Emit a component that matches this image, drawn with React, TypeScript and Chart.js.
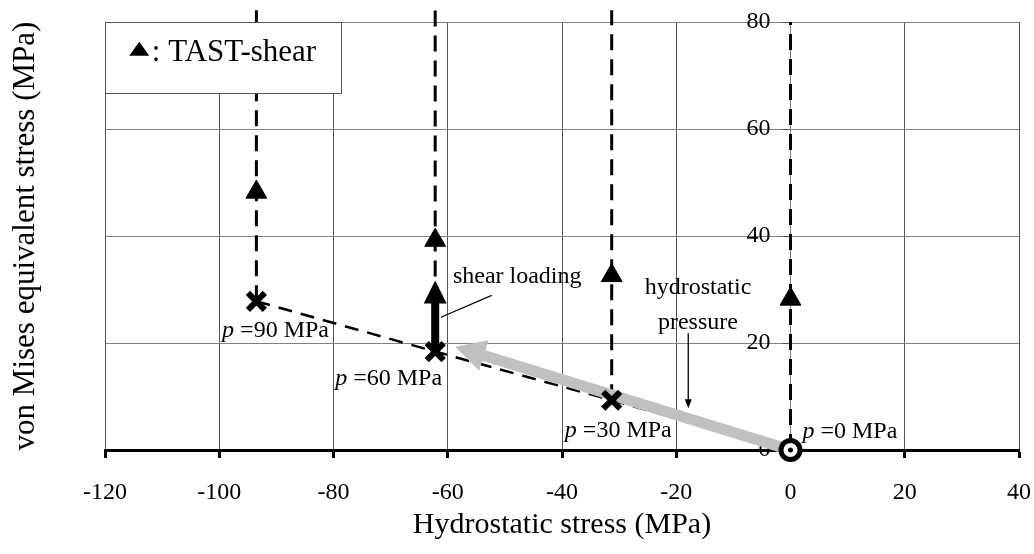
import React, { useEffect, useRef } from "react";
import { Chart, registerables } from "chart.js";

Chart.register(...registerables);

const FONT = "'Liberation Serif', 'Times New Roman', Times, serif";

// axes
const xRange = [-120, 40];
const yRange = [0, 80];
const tickStep = 20;
// the value axis crosses at x = 0; its labels sit just left of it
const yAxisAt = 0;
const yLabelsAt = -3.5;

// loading states (hydrostatic pressure p in MPa)
const pressures = [90, 60, 30, 0];
const hydroStress = [-93.5, -62.2, -31.3, 0];
const misesLoaded = [27.8, 18.4, 9.3, 0];
// TAST-shear results
const tastShear = [48.2, 39.2, 32.6, 28.2];
// upper end of the dashed shear paths
const pathTops = [83.1, 82.2, 82.2, 80];

// annotation arrows (data units)
const shearArrow = { from: [-62.2, 18.4], to: [-62.2, 31.7] };
const pressureArrow = { from: [0, 0], to: [-58.7, 19.3] };
const pointerArrow = { from: [-17.9, 21.8], to: [-17.9, 7.8] };
const shearLeader = { from: [-52.3, 28.9], to: [-61.2, 24.8] };

// annotation texts (left / baseline, data units)
const pLabelPos = [
  [-99.5, 21.2],
  [-79.7, 12.1],
  [-39.5, 2.5],
  [2.1, 2.2],
];
const shearText = "shear loading";
const shearTextPos = [-59.1, 31.2];
const hydroTexts = ["hydrostatic", "pressure"];
const hydroTextPos = [
  [-16.2, 29.1],
  [-16.2, 22.6],
];

// legend
const legendText = ": TAST-shear";
const legendBox = [
  [-120, 80],
  [-78.6, 66.8],
];
const legendMarker = [-114.0, 75.0];
const legendTextPos = [-111.8, 72.8];

const xTitle = "Hydrostatic stress (MPa)";
const yTitle = "von Mises equivalent stress (MPa)";

function drawArrow(
  ctx: CanvasRenderingContext2D,
  x1: number,
  y1: number,
  x2: number,
  y2: number,
  shaftW: number,
  headLen: number,
  headHalf: number,
  color: string
) {
  const ang = Math.atan2(y2 - y1, x2 - x1);
  const len = Math.hypot(x2 - x1, y2 - y1);
  ctx.save();
  ctx.translate(x1, y1);
  ctx.rotate(ang);
  ctx.fillStyle = color;
  ctx.beginPath();
  ctx.moveTo(0, -shaftW / 2);
  ctx.lineTo(len - headLen, -shaftW / 2);
  ctx.lineTo(len - headLen, -headHalf);
  ctx.lineTo(len, 0);
  ctx.lineTo(len - headLen, headHalf);
  ctx.lineTo(len - headLen, shaftW / 2);
  ctx.lineTo(0, shaftW / 2);
  ctx.closePath();
  ctx.fill();
  ctx.restore();
}

const noPadding = () => ({ left: 0, right: 0, top: 0, bottom: 0 });

const annotationPlugin = {
  id: "annotations",
  afterDatasetDraw(chart: any, args: any) {
    const ds = chart.data.datasets[args.index];
    if (ds.label !== "loading path") return;
    const ctx: CanvasRenderingContext2D = chart.ctx;
    const X = (v: number) => chart.scales.x.getPixelForValue(v);
    const Y = (v: number) => chart.scales.y.getPixelForValue(v);
    drawArrow(
      ctx,
      X(pressureArrow.from[0]),
      Y(pressureArrow.from[1]),
      X(pressureArrow.to[0]),
      Y(pressureArrow.to[1]),
      11,
      30,
      16,
      "#c0c0c0"
    );
    drawArrow(
      ctx,
      X(shearArrow.from[0]),
      Y(shearArrow.from[1]),
      X(shearArrow.to[0]),
      Y(shearArrow.to[1]),
      8,
      23,
      11.5,
      "#000"
    );
  },
  afterDraw(chart: any) {
    const ctx: CanvasRenderingContext2D = chart.ctx;
    const X = (v: number) => chart.scales.x.getPixelForValue(v);
    const Y = (v: number) => chart.scales.y.getPixelForValue(v);
    ctx.save();
    // leader line for shear loading
    ctx.strokeStyle = "#000";
    ctx.lineWidth = 1.2;
    ctx.beginPath();
    ctx.moveTo(X(shearLeader.from[0]), Y(shearLeader.from[1]));
    ctx.lineTo(X(shearLeader.to[0]), Y(shearLeader.to[1]));
    ctx.stroke();
    // pointer arrow for hydrostatic pressure
    drawArrow(
      ctx,
      X(pointerArrow.from[0]),
      Y(pointerArrow.from[1]),
      X(pointerArrow.to[0]),
      Y(pointerArrow.to[1]),
      1.3,
      9,
      3.5,
      "#000"
    );

    ctx.fillStyle = "#000";
    ctx.textBaseline = "alphabetic";
    ctx.textAlign = "left";
    ctx.font = `24px ${FONT}`;
    ctx.fillText(shearText, X(shearTextPos[0]), Y(shearTextPos[1]));
    ctx.textAlign = "center";
    hydroTexts.forEach((t, i) => {
      ctx.fillText(t, X(hydroTextPos[i][0]), Y(hydroTextPos[i][1]));
    });
    ctx.textAlign = "left";
    pressures.forEach((p, i) => {
      const px = X(pLabelPos[i][0]);
      const py = Y(pLabelPos[i][1]);
      ctx.font = `italic 24px ${FONT}`;
      ctx.fillText("p", px, py);
      const w = ctx.measureText("p").width;
      ctx.font = `24px ${FONT}`;
      ctx.fillText(` =${p} MPa`, px + w, py);
    });

    // legend box
    const bx1 = Math.round(X(legendBox[0][0])) + 0.5;
    const by1 = Math.round(Y(legendBox[0][1])) + 0.5;
    const bx2 = Math.round(X(legendBox[1][0])) + 0.5;
    const by2 = Math.round(Y(legendBox[1][1])) + 0.5;
    ctx.fillStyle = "#fff";
    ctx.fillRect(bx1, by1, bx2 - bx1, by2 - by1);
    ctx.strokeStyle = "#555";
    ctx.lineWidth = 1;
    ctx.strokeRect(bx1, by1, bx2 - bx1, by2 - by1);
    const mx = X(legendMarker[0]);
    const my = Y(legendMarker[1]);
    ctx.fillStyle = "#000";
    ctx.beginPath();
    ctx.moveTo(mx, my - 7);
    ctx.lineTo(mx + 10, my + 7);
    ctx.lineTo(mx - 10, my + 7);
    ctx.closePath();
    ctx.fill();
    ctx.font = `31px ${FONT}`;
    ctx.textAlign = "left";
    ctx.fillText(legendText, X(legendTextPos[0]), Y(legendTextPos[1]));
    ctx.restore();
  },
};

export default function App() {
  const ref = useRef<HTMLCanvasElement | null>(null);

  useEffect(() => {
    if (!ref.current) return;

    const verticalPaths = hydroStress.map((x, i) => ({
      label: `shear path p=${pressures[i]}`,
      data: [
        { x, y: misesLoaded[i] },
        { x, y: pathTops[i] },
      ],
      showLine: true,
      borderColor: "#000",
      borderWidth: 3,
      borderDash: [16, 9],
      pointRadius: 0,
      clip: false as any,
      xAxisID: "x",
      yAxisID: "y",
    }));

    const tickFont = { family: FONT, size: 24 };

    const chart = new Chart(ref.current, {
      type: "scatter",
      data: {
        datasets: [
          {
            label: "origin",
            data: [{ x: hydroStress[3], y: misesLoaded[3] }],
            pointStyle: "circle",
            pointRadius: 2.5,
            backgroundColor: "#000",
            borderColor: "#000",
            borderWidth: 0,
            clip: false as any,
            xAxisID: "x",
            yAxisID: "y",
          },
          {
            label: "p=0",
            data: [{ x: hydroStress[3], y: misesLoaded[3] }],
            pointStyle: "circle",
            pointRadius: 9.5,
            pointBorderWidth: 5,
            backgroundColor: "#fff",
            borderColor: "#000",
            clip: false as any,
            xAxisID: "x",
            yAxisID: "y",
          },
          {
            label: "pressurised",
            data: hydroStress.slice(0, 3).map((x, i) => ({ x, y: misesLoaded[i] })),
            pointStyle: "crossRot",
            pointRadius: 12,
            pointBorderWidth: 6,
            borderColor: "#000",
            backgroundColor: "#000",
            clip: false as any,
            xAxisID: "x",
            yAxisID: "y",
          },
          {
            label: "TAST-shear",
            data: hydroStress.map((x, i) => ({ x, y: tastShear[i] })),
            pointStyle: "triangle",
            pointRadius: 12,
            pointBorderWidth: 1,
            borderColor: "#000",
            backgroundColor: "#000",
            clip: false as any,
            xAxisID: "x",
            yAxisID: "y",
          },
          {
            label: "loading path",
            data: hydroStress.map((x, i) => ({ x, y: misesLoaded[i] })),
            showLine: true,
            borderColor: "#000",
            borderWidth: 2.5,
            borderDash: [14, 9],
            pointRadius: 0,
            clip: false as any,
            xAxisID: "x",
            yAxisID: "y",
          },
          ...verticalPaths,
        ] as any,
      },
      options: {
        responsive: false,
        animation: false,
        devicePixelRatio: 1,
        events: [],
        layout: { autoPadding: false, padding: { left: 0, right: 15, top: 22, bottom: 0 } },
        plugins: {
          legend: { display: false },
          tooltip: { enabled: false },
        },
        scales: {
          x: {
            type: "linear",
            position: "bottom",
            min: xRange[0],
            max: xRange[1],
            ticks: {
              stepSize: tickStep,
              autoSkip: false,
              maxRotation: 0,
              color: "#000",
              padding: 20,
              font: tickFont,
            },
            grid: {
              color: "#555",
              lineWidth: 1,
              tickLength: 8,
              tickColor: "#000",
              tickWidth: 3,
            },
            border: { color: "#000", width: 3 },
            title: {
              display: true,
              text: xTitle,
              color: "#000",
              font: { family: FONT, size: 30 },
              padding: { top: 0, bottom: 11 },
            },
            afterFit(scale: any) {
              scale.height = 104;
              scale.paddingLeft = 0;
              scale.paddingRight = 0;
              scale.getPadding = noPadding;
            },
          },
          y: {
            type: "linear",
            position: { x: yAxisAt } as any,
            min: yRange[0],
            max: yRange[1],
            ticks: { stepSize: tickStep, display: false },
            grid: {
              color: "#808080",
              lineWidth: 1,
              tickLength: 8,
              tickColor: "#555",
            },
            border: { color: "#808080", width: 1 },
            afterFit(scale: any) {
              scale.getPadding = noPadding;
            },
          },
          yLabels: {
            type: "linear",
            axis: "y",
            position: { x: yLabelsAt } as any,
            min: yRange[0],
            max: yRange[1],
            ticks: { stepSize: tickStep, color: "#000", padding: 0, font: tickFont },
            grid: { display: false, drawTicks: false },
            border: { display: false },
            afterFit(scale: any) {
              scale.getPadding = noPadding;
            },
          },
          yTitle: {
            type: "linear",
            axis: "y",
            position: "left",
            min: yRange[0],
            max: yRange[1],
            ticks: { display: false },
            grid: { display: false, drawTicks: false },
            border: { display: false },
            title: {
              display: true,
              text: yTitle,
              color: "#000",
              font: { family: FONT, size: 31 },
              padding: { top: 7, bottom: 0 },
            },
            afterFit(scale: any) {
              scale.width = 105;
              scale.getPadding = noPadding;
            },
          },
        } as any,
      },
      plugins: [annotationPlugin],
    });

    return () => chart.destroy();
  }, []);

  return (
    <div style={{ position: "absolute", left: 0, top: 0, width: 1034, height: 554 }}>
      <canvas ref={ref} width={1034} height={554} style={{ display: "block" }} />
    </div>
  );
}
